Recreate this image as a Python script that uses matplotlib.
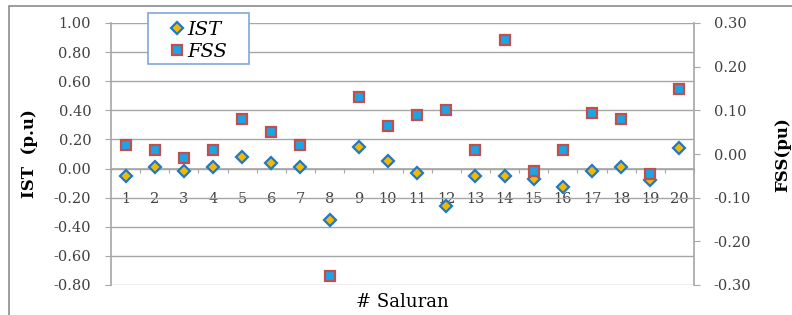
import numpy as np
import matplotlib
matplotlib.use('Agg')
import matplotlib.pyplot as plt
from matplotlib.patches import Rectangle
from matplotlib.ticker import FormatStrFormatter, FixedLocator

plt.rcParams['font.family'] = ['DejaVu Serif']

# data
saluran = list(range(1, 21))
ist = [-0.05, 0.01, -0.02, 0.01, 0.08, 0.04, 0.01, -0.35, 0.15, 0.05,
       -0.03, -0.26, -0.05, -0.05, -0.07, -0.13, -0.02, 0.01, -0.08, 0.14]
fss = [0.02, 0.01, -0.01, 0.01, 0.08, 0.05, 0.02, -0.28, 0.13, 0.065,
       0.09, 0.10, 0.01, 0.26, -0.04, 0.01, 0.095, 0.08, -0.045, 0.15]
left_ticks = [-0.8, -0.6, -0.4, -0.2, 0.0, 0.2, 0.4, 0.6, 0.8, 1.0]
right_ticks = [-0.3, -0.2, -0.1, 0.0, 0.1, 0.2, 0.3]

grey = '#a6a6a6'
txt = '#404040'
W, H = 792, 315

fig = plt.figure(figsize=(W / 100, H / 100), dpi=100)
ax = fig.add_axes([111 / W, 1 - 285 / H, (694 - 111) / W, (285 - 23) / H])
ax2 = ax.twinx()

# outer frame of the chart
fig.patches.append(Rectangle((9 / W, -0.2), 1.2, 1.2 - 6 / H,
                             transform=fig.transFigure, fill=False,
                             edgecolor='#8c8c8c', lw=1.2))

ax.set_xlim(0.5, 20.5)
ax.set_ylim(-0.8, 1.0)
ax.set_yticks(left_ticks)
ax.yaxis.set_major_formatter(FormatStrFormatter('%.2f'))
ax.grid(axis='y', color=grey, lw=1)
ax.set_axisbelow(True)

# category axis crossing at zero
ax.spines['bottom'].set_position(('data', 0))
ax.spines['top'].set_visible(False)
ax.spines['right'].set_visible(False)
for s in ['bottom', 'left']:
    ax.spines[s].set_color(grey)
    ax.spines[s].set_linewidth(1.2)
ax.xaxis.set_major_locator(FixedLocator(np.arange(0.5, 21, 1)))
ax.xaxis.set_major_formatter(plt.NullFormatter())
ax.set_xticks(saluran, [str(s) for s in saluran], minor=True)
ax.tick_params(axis='x', which='major', length=3, color=grey, direction='out')
ax.tick_params(axis='x', which='minor', length=0, pad=17, labelsize=10.5,
               labelcolor=txt)
ax.tick_params(axis='y', length=4.3, color=grey, pad=10, labelsize=10.5,
               labelcolor=txt)

ax2.set_ylim(-0.3, 0.3)
ax2.set_yticks(right_ticks)
ax2.yaxis.set_major_formatter(FormatStrFormatter('%.2f'))
for s in ['top', 'bottom', 'left']:
    ax2.spines[s].set_visible(False)
ax2.spines['right'].set_color(grey)
ax2.spines['right'].set_linewidth(1.2)
ax2.tick_params(axis='y', length=4.3, color=grey, pad=10, labelsize=10.5,
                labelcolor=txt)

h1, = ax.plot(saluran, ist, ls='none', marker='D', ms=6, mfc='#f5b800',
              mec='#1f78c8', mew=1.6, label='IST', zorder=3)
h2, = ax2.plot(saluran, fss, ls='none', marker='s', ms=7, mfc='#19a5e6',
               mec='#c0504d', mew=1.6, label='FSS', zorder=3)

# legend box drawn separately so its padding can match
ax2.add_patch(Rectangle((148 / W, 1 - 64 / H), 101 / W, 51 / H,
                        transform=fig.transFigure, facecolor='white',
                        edgecolor='#7fa7d8', lw=1.2, zorder=4, clip_on=False))
leg = ax2.legend(handles=[h1, h2], loc='upper left',
                 bbox_to_anchor=(164 / W, 1 - 17 / H), bbox_transform=fig.transFigure,
                 frameon=False,
                 prop={'family': 'DejaVu Serif', 'style': 'italic', 'size': 14},
                 handlelength=0.9, handletextpad=0.1, borderpad=0.2,
                 labelspacing=0.2, borderaxespad=0)
leg.set_zorder(6)

fig.text(30 / W, 1 - 154 / H, 'IST  (p.u)', rotation=90, ha='center', va='center',
         fontsize=12, fontweight='bold')
fig.text(791 / W, 1 - 155 / H, 'FSS(pu)', rotation=90, ha='right', va='center',
         fontsize=12, fontweight='bold')
fig.text(402 / W, 1 - 302 / H, '# Saluran', ha='center', va='center', fontsize=13)

fig.savefig('out.png', dpi=100)
